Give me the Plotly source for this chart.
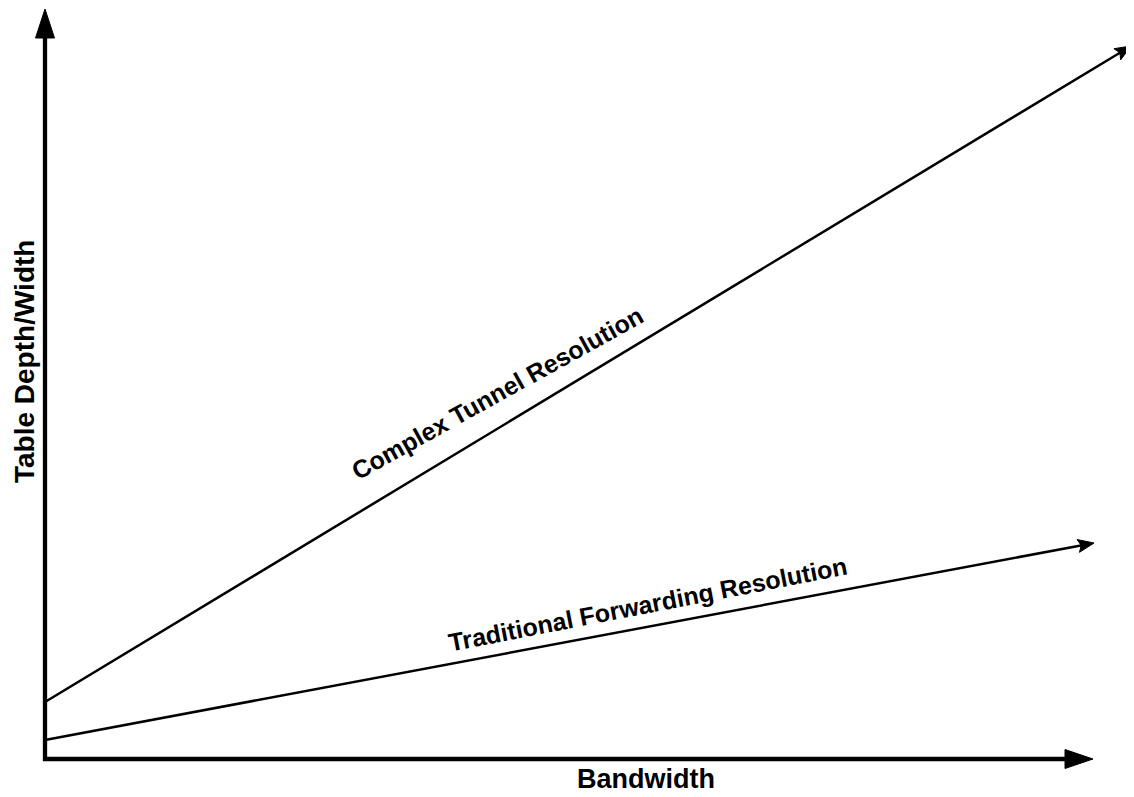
import numpy as np
import plotly.graph_objects as go

# ---- data (drawing units: 1 unit ~ 100 px) ----
bandwidth_complex = [0.0, 10.86]
complex_tunnel = [0.57, 7.13]
bandwidth_traditional = [0.0, 10.49]
traditional_forwarding = [0.19, 2.16]
x_axis_extent = [0.0, 10.48]
y_axis_extent = [0.0, 7.50]

series_labels = ["Complex Tunnel Resolution", "Traditional Forwarding Resolution"]
x_title = "Bandwidth"
y_title = "Table Depth/Width"

FONT = "Liberation Sans, Arial, sans-serif"


def arrow(x0, y0, x1, y1, length, width, notch=0.0):
    d = np.array([x1 - x0, y1 - y0], dtype=float)
    d /= np.linalg.norm(d)
    n = np.array([-d[1], d[0]])
    tip = np.array([x1, y1])
    base = tip - length * d
    p1 = base + width / 2 * n
    p2 = base - width / 2 * n
    pn = base + notch * d
    poly = [tip, p1, pn, p2, tip]
    shaft_end = base + (notch + 0.01) * d
    return [p[0] for p in poly], [p[1] for p in poly], shaft_end


fig = go.Figure()

# axes (L-shaped) with arrowheads
hx, hy, xend = arrow(x_axis_extent[0], 0, x_axis_extent[1], 0, 0.28, 0.19)
vx, vy, yend = arrow(0, y_axis_extent[0], 0, y_axis_extent[1], 0.29, 0.19)
fig.add_trace(go.Scatter(
    x=[0, 0, xend[0]], y=[yend[1], 0, 0], mode="lines",
    line=dict(color="black", width=4.3), hoverinfo="skip", showlegend=False))
for px, py in [(hx, hy), (vx, vy)]:
    fig.add_trace(go.Scatter(x=px, y=py, mode="lines", fill="toself",
                             fillcolor="black", line=dict(color="black", width=1),
                             hoverinfo="skip", showlegend=False))

# series lines with arrowheads
for xs, ys in [(bandwidth_complex, complex_tunnel),
               (bandwidth_traditional, traditional_forwarding)]:
    ax_, ay_, end = arrow(xs[0], ys[0], xs[1], ys[1], 0.16, 0.13, notch=0.03)
    fig.add_trace(go.Scatter(x=[xs[0], end[0]], y=[ys[0], end[1]], mode="lines",
                             line=dict(color="black", width=2.5),
                             hoverinfo="skip", showlegend=False))
    fig.add_trace(go.Scatter(x=ax_, y=ay_, mode="lines", fill="toself",
                             fillcolor="black", line=dict(color="black", width=1),
                             hoverinfo="skip", showlegend=False))

# labels
fig.add_annotation(x=4.52, y=3.66, text="<b>" + series_labels[0] + "</b>",
                   textangle=-29, showarrow=False,
                   font=dict(family=FONT, size=25, color="black"))
fig.add_annotation(x=6.03, y=1.55, text="<b>" + series_labels[1] + "</b>",
                   textangle=-11, showarrow=False,
                   font=dict(family=FONT, size=25, color="black"))
fig.add_annotation(x=6.01, y=-0.20, text="<b>" + x_title + "</b>", borderpad=0,
                   showarrow=False, font=dict(family=FONT, size=27, color="black"))
fig.add_annotation(x=-0.21, y=3.97, text="<b>" + y_title + "</b>", textangle=-90,
                   borderpad=0, showarrow=False,
                   font=dict(family=FONT, size=28, color="black"))

# page has an 8px body margin: figure spans page pixels 8..1134 x 8..797
fig.update_layout(
    width=1126, height=789, autosize=False,
    margin=dict(l=0, r=0, t=0, b=0, pad=0),
    paper_bgcolor="white", plot_bgcolor="white",
    xaxis=dict(range=[-0.37, 10.89], visible=False, fixedrange=True),
    yaxis=dict(range=[-0.38, 7.51], visible=False, fixedrange=True),
    showlegend=False,
)

fig.write_html("out.html", config={"displayModeBar": False})
